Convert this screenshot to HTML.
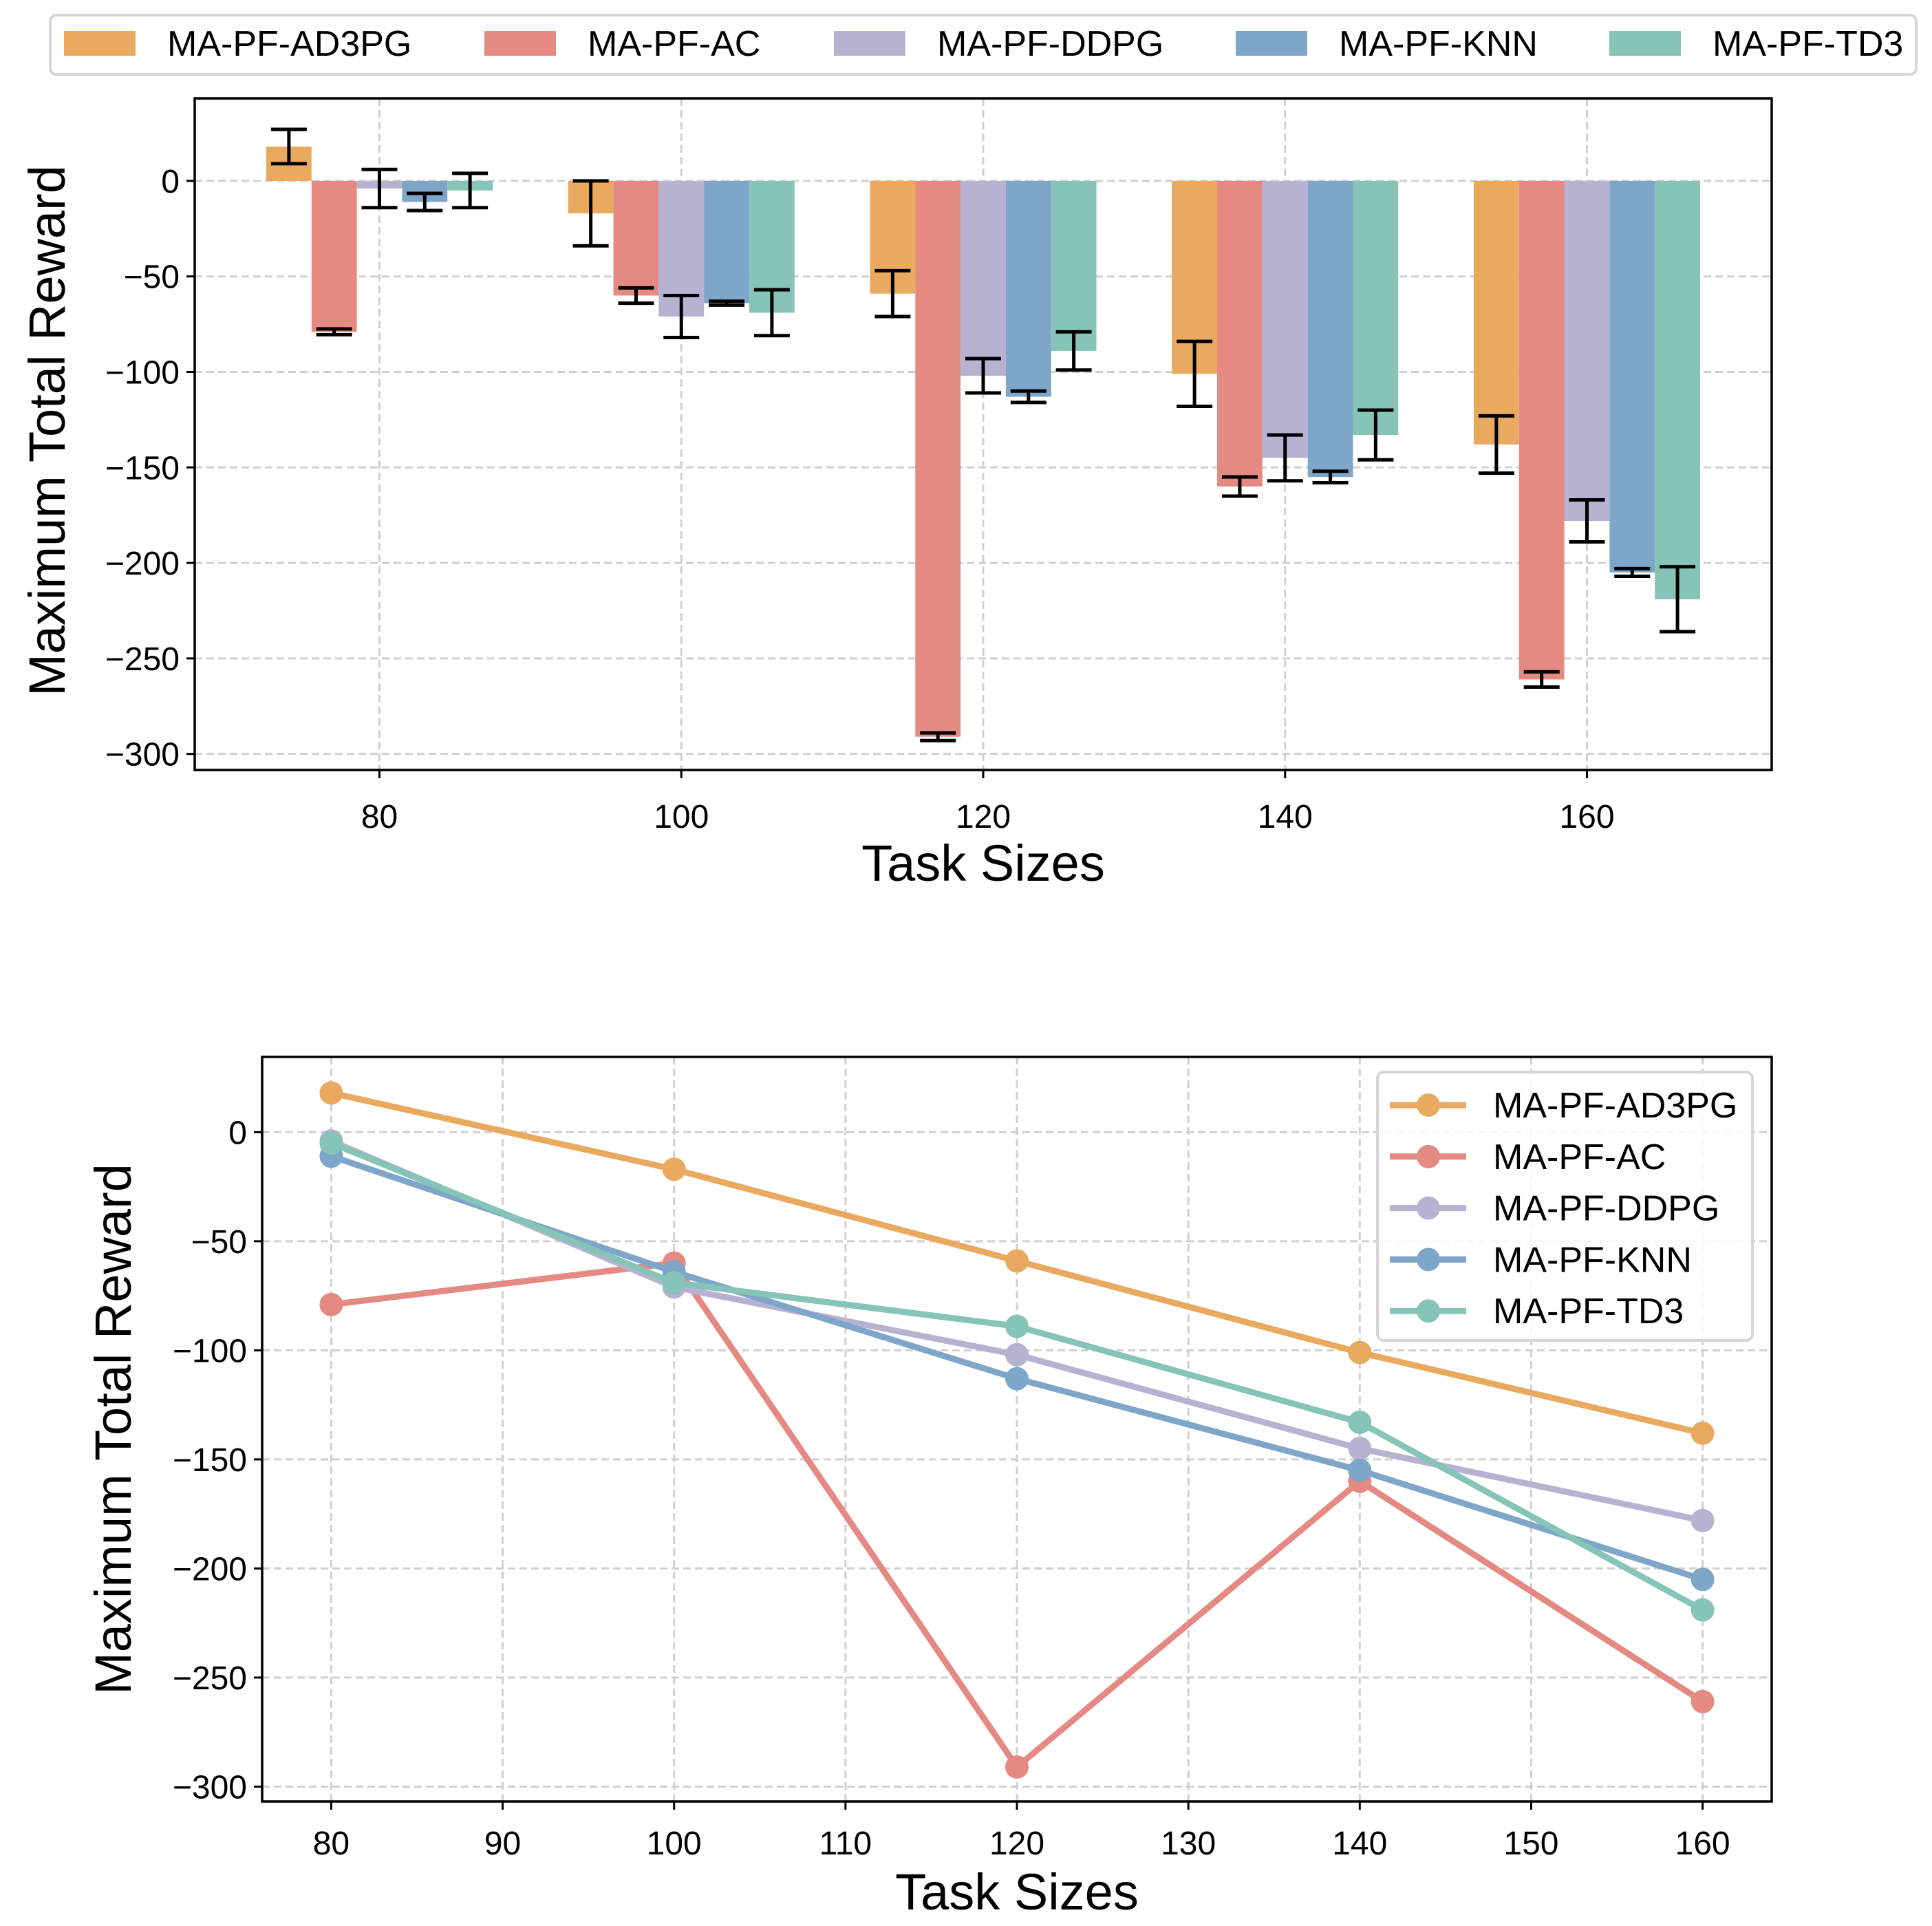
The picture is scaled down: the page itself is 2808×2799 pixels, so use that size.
<!DOCTYPE html>
<html><head><meta charset="utf-8"><style>
html,body{margin:0;padding:0;background:#fff;}
svg{display:block;font-family:"Liberation Sans",Arial,sans-serif;}
</style></head><body>
<svg id="fig" width="2808" height="2799" viewBox="0 0 2808 2799" xmlns="http://www.w3.org/2000/svg">
<rect width="2808" height="2799" fill="#fff"/>
<g id="topChart"></g>
<g id="botChart"></g>
</svg>
<script>
const categories = [80, 100, 120, 140, 160];
const seriesNames = ["MA-PF-AD3PG", "MA-PF-AC", "MA-PF-DDPG", "MA-PF-KNN", "MA-PF-TD3"];
const ad3pg = [18, -17, -59, -101, -138];
const ac = [-79, -60, -291, -160, -261];
const ddpg = [-4, -71, -102, -145, -178];
const knn = [-11, -64, -113, -155, -205];
const td3 = [-5, -69, -89, -133, -219];
const ad3pgErr = [9, 17, 12, 17, 15];
const acErr = [1.5, 4, 2, 5, 4];
const ddpgErr = [10, 11, 9, 12, 11];
const knnErr = [4.5, 1, 3, 3, 2];
const td3Err = [9, 12, 10, 13, 17];
const yTicks = [0, -50, -100, -150, -200, -250, -300];
const yTickLabels = ["0", "\u221250", "\u2212100", "\u2212150", "\u2212200", "\u2212250", "\u2212300"];
const botXTicks = [80, 90, 100, 110, 120, 130, 140, 150, 160];
const colors = ["#E9AA5F", "#E48A82", "#B7B2D2", "#7DA6C8", "#85C4B6"];

const NS = "http://www.w3.org/2000/svg";
function mk(parent, tag, attrs, text) {
  const e = document.createElementNS(NS, tag);
  for (const k in attrs) e.setAttribute(k, attrs[k]);
  if (text !== undefined) e.textContent = text;
  parent.appendChild(e);
  return e;
}
const values = [ad3pg, ac, ddpg, knn, td3];
const errs = [ad3pgErr, acErr, ddpgErr, knnErr, td3Err];
const TICK_FS = 48, TITLE_FS = 74;

// ---------- TOP BAR CHART ----------
const topG = document.getElementById('topChart');
const T = {l:283, r:2575, t:143, b:1119, x0:67.76, x1:172.24, y0:43.2, y1:-308.4};
const tx = v => T.l + (v - T.x0) / (T.x1 - T.x0) * (T.r - T.l);
const ty = v => T.t + (T.y0 - v) / (T.y0 - T.y1) * (T.b - T.t);
categories.forEach(c => {
  const g = mk(topG, 'line', {x1:tx(c), x2:tx(c), y1:T.t, y2:T.b, stroke:'#d0d0d0', 'stroke-width':3, 'stroke-dasharray':'11 6'});
  
  
});
yTicks.forEach(v => {
  const g = mk(topG, 'line', {x1:T.l, x2:T.r, y1:ty(v), y2:ty(v), stroke:'#d0d0d0', 'stroke-width':3, 'stroke-dasharray':'11 6'});
  
  
});
const barW = 3;
values.forEach((arr, s) => {
  arr.forEach((v, i) => {
    const cx = categories[i] + (s - 2) * barW;
    const yA = ty(Math.max(v, 0)), yB = ty(Math.min(v, 0));
    const b = mk(topG, 'rect', {x:tx(cx - barW/2), y:yA, width:tx(cx + barW/2) - tx(cx - barW/2), height:Math.max(yB - yA, 0.5), fill:colors[s]});
    
    
  });
});
values.forEach((arr, s) => {
  arr.forEach((v, i) => {
    const cx = tx(categories[i] + (s - 2) * barW);
    const e = errs[s][i];
    const g = mk(topG, 'g', {stroke:'#000', 'stroke-width':5});
    
    
    mk(g, 'line', {x1:cx, x2:cx, y1:ty(v + e), y2:ty(v - e)});
    mk(g, 'line', {x1:cx - 26, x2:cx + 26, y1:ty(v + e), y2:ty(v + e)});
    mk(g, 'line', {x1:cx - 26, x2:cx + 26, y1:ty(v - e), y2:ty(v - e)});
  });
});
const tf = mk(topG, 'rect', {x:T.l, y:T.t, width:T.r - T.l, height:T.b - T.t, fill:'none', stroke:'#000', 'stroke-width':3.5});


yTicks.forEach((v, i) => {
  mk(topG, 'line', {x1:T.l - 12, x2:T.l, y1:ty(v), y2:ty(v), stroke:'#000', 'stroke-width':3});
  const t = mk(topG, 'text', {x:T.l - 22, y:ty(v) + 17, 'text-anchor':'end', 'font-size':TICK_FS}, yTickLabels[i]);
  
  
});
categories.forEach(c => {
  mk(topG, 'line', {x1:tx(c), x2:tx(c), y1:T.b, y2:T.b + 12, stroke:'#000', 'stroke-width':3});
  const t = mk(topG, 'text', {x:tx(c), y:T.b + 84, 'text-anchor':'middle', 'font-size':TICK_FS}, String(c));
  
  
});
let lab = mk(topG, 'text', {x:(T.l + T.r)/2, y:1280, 'text-anchor':'middle', 'font-size':TITLE_FS}, 'Task Sizes');


lab = mk(topG, 'text', {x:0, y:0, 'text-anchor':'middle', 'font-size':TITLE_FS, transform:'translate(94,' + ((T.t + T.b)/2 - 5) + ') rotate(-90)'}, 'Maximum Total Reward');


const lg = mk(topG, 'g', {});


mk(lg, 'rect', {x:73, y:22, width:2712, height:86, rx:9, fill:'#fff', stroke:'#d6d6d6', 'stroke-width':4});
const patchX = [93, 704, 1212, 1796, 2339];
seriesNames.forEach((n, s) => {
  const e = mk(lg, 'g', {});
  
  
  mk(e, 'rect', {x:patchX[s], y:45, width:104, height:36, fill:colors[s]});
  mk(e, 'text', {x:patchX[s] + 150, y:81, 'font-size':52}, n);
});

// ---------- BOTTOM LINE CHART ----------
const botG = document.getElementById('botChart');
const B = {l:381, r:2575, t:1536, b:2618, x0:75.97, x1:164.03, y0:34.5, y1:-306.8};
const bx = v => B.l + (v - B.x0) / (B.x1 - B.x0) * (B.r - B.l);
const by = v => B.t + (B.y0 - v) / (B.y0 - B.y1) * (B.b - B.t);
botXTicks.forEach(c => {
  const g = mk(botG, 'line', {x1:bx(c), x2:bx(c), y1:B.t, y2:B.b, stroke:'#d0d0d0', 'stroke-width':3, 'stroke-dasharray':'11 6'});
  
  
});
yTicks.forEach(v => {
  const g = mk(botG, 'line', {x1:B.l, x2:B.r, y1:by(v), y2:by(v), stroke:'#d0d0d0', 'stroke-width':3, 'stroke-dasharray':'11 6'});
  
  
});
values.forEach((arr, s) => {
  const g = mk(botG, 'g', {});
  
  
  const pts = arr.map((v, i) => bx(categories[i]) + ',' + by(v)).join(' ');
  const pl = mk(g, 'polyline', {points:pts, fill:'none', stroke:colors[s], 'stroke-width':9, 'stroke-linejoin':'round'});
  
  
  arr.forEach((v, i) => {
    const c = mk(g, 'circle', {cx:bx(categories[i]), cy:by(v), r:17, fill:colors[s]});
    
    
  });
});
const bf = mk(botG, 'rect', {x:B.l, y:B.t, width:B.r - B.l, height:B.b - B.t, fill:'none', stroke:'#000', 'stroke-width':3.5});


yTicks.forEach((v, i) => {
  mk(botG, 'line', {x1:B.l - 12, x2:B.l, y1:by(v), y2:by(v), stroke:'#000', 'stroke-width':3});
  const t = mk(botG, 'text', {x:B.l - 22, y:by(v) + 17, 'text-anchor':'end', 'font-size':TICK_FS}, yTickLabels[i]);
  
  
});
botXTicks.forEach(c => {
  mk(botG, 'line', {x1:bx(c), x2:bx(c), y1:B.b, y2:B.b + 12, stroke:'#000', 'stroke-width':3});
  const t = mk(botG, 'text', {x:bx(c), y:B.b + 77, 'text-anchor':'middle', 'font-size':TICK_FS}, String(c));
  
  
});
lab = mk(botG, 'text', {x:(B.l + B.r)/2, y:2775, 'text-anchor':'middle', 'font-size':TITLE_FS}, 'Task Sizes');


lab = mk(botG, 'text', {x:0, y:0, 'text-anchor':'middle', 'font-size':TITLE_FS, transform:'translate(190,' + ((B.t + B.b)/2) + ') rotate(-90)'}, 'Maximum Total Reward');


const lg2 = mk(botG, 'g', {});


mk(lg2, 'rect', {x:2002, y:1558, width:545, height:390, rx:9, fill:'#fff', 'fill-opacity':0.85, stroke:'#d6d6d6', 'stroke-width':4});
seriesNames.forEach((n, s) => {
  const y = 1606 + s * 74.8;
  const e = mk(lg2, 'g', {});
  
  
  mk(e, 'line', {x1:2020, x2:2131, y1:y, y2:y, stroke:colors[s], 'stroke-width':9});
  mk(e, 'circle', {cx:2076, cy:y, r:17, fill:colors[s]});
  mk(e, 'text', {x:2170, y:y + 18, 'font-size':52}, n);
});
</script>
</body></html>
